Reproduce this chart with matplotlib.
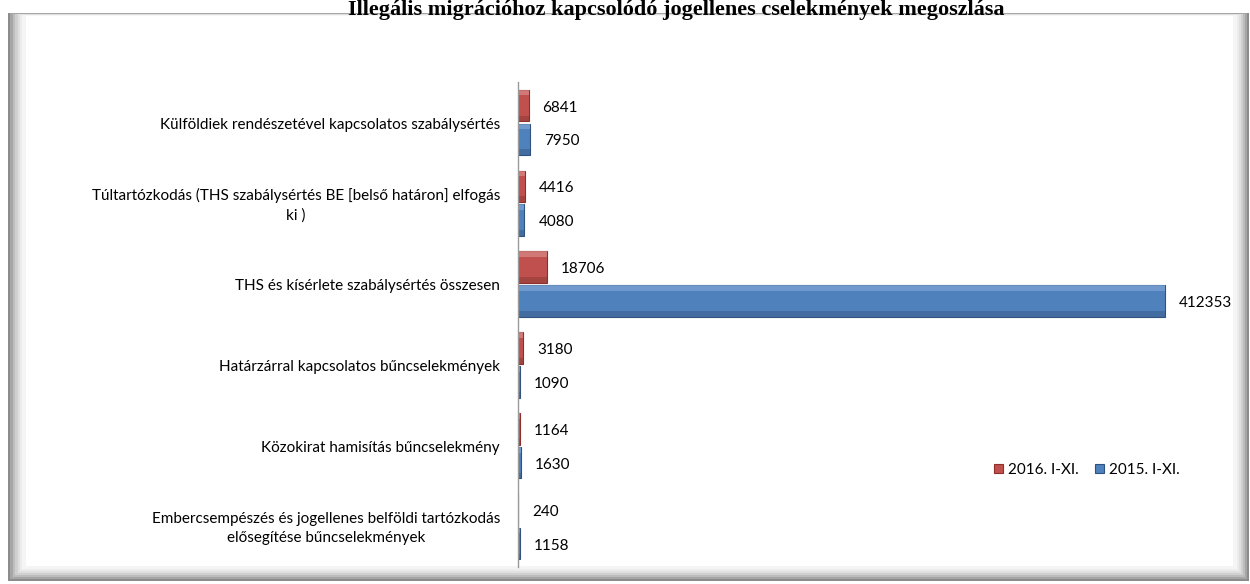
import matplotlib
matplotlib.use("Agg")
import matplotlib.pyplot as plt
from matplotlib.patches import Rectangle
import numpy as np

categories = [
    "Külföldiek rendészetével kapcsolatos szabálysértés",
    "Túltartózkodás (THS szabálysértés BE [belső határon] elfogás\nki )",
    "THS és kísérlete szabálysértés összesen",
    "Határzárral kapcsolatos bűncselekmények",
    "Közokirat hamisítás bűncselekmény",
    "Embercsempészés és jogellenes belföldi tartózkodás\nelősegítése bűncselekmények",
]
values_2016 = [6841, 4416, 18706, 3180, 1164, 240]
values_2015 = [7950, 4080, 412353, 1090, 1630, 1158]
series_names = ["2016. I-XI.", "2015. I-XI."]
title = "Illegális migrációhoz kapcsolódó jogellenes cselekmények megoszlása"

red = "#C0504D"
red_dark = "#8E2F2C"
blue = "#4F81BD"
blue_dark = "#2F527E"

W, H = 1250, 584
fig = plt.figure(figsize=(W / 100, H / 100), dpi=100)
fig.patch.set_facecolor("white")


def fx(px):
    return px / W


def fy(py):
    return 1 - py / H


# frame with bevel/shadow
shades = ["#8c8c8c", "#a6a6a6", "#bdbdbd", "#d0d0d0", "#e0e0e0", "#ececec", "#f5f5f5"]
for i, c in enumerate(shades):
    x0, y0 = 8 + i * 2.4, 13 + i * 0.3
    x1, y1 = 1249 - i * 2.0, 581 - i * 2.0
    fig.patches.append(Rectangle((fx(x0), fy(y1)), fx(x1 - x0), (y1 - y0) / H,
                                 transform=fig.transFigure, facecolor=c,
                                 edgecolor="none", zorder=0))
fig.patches.append(Rectangle((fx(26), fy(566)), fx(1233 - 26), (566 - 16) / H,
                             transform=fig.transFigure, facecolor="white",
                             edgecolor="none", zorder=0))

fig.text(fx(676), fy(0.5), title, ha="center", va="top", fontsize=16,
         fontweight="bold", family="Liberation Serif", color="black", zorder=5)

ax = fig.add_axes([fx(518), fy(567), fx(1224 - 518), (567 - 82) / H])
ax.set_facecolor("none")
ax.set_zorder(2)

y = np.arange(len(categories))
h = 0.39
off = 0.21
bars_r = ax.barh(y - off, values_2016, height=h, color=red, edgecolor=red_dark,
                 linewidth=0.8, label=series_names[0])
bars_b = ax.barh(y + off, values_2015, height=h, color=blue, edgecolor=blue_dark,
                 linewidth=0.8, label=series_names[1])

# bevel highlight
for bars, light in ((bars_r, "#D98B88"), (bars_b, "#7FA6D6")):
    for b in bars:
        bx, by = b.get_x(), b.get_y()
        bw, bh = b.get_width(), b.get_height()
        ax.add_patch(Rectangle((bx, by), bw, bh * 0.18, facecolor=light,
                               edgecolor="none", alpha=0.7))
        ax.add_patch(Rectangle((bx, by + bh * 0.82), bw, bh * 0.18,
                               facecolor="black", edgecolor="none", alpha=0.15))

ax.set_xlim(0, 450000)
ax.set_ylim(len(categories) - 0.5, -0.5)
ax.set_xticks([])
ax.set_yticks([])
for s in ["top", "right", "bottom"]:
    ax.spines[s].set_visible(False)
ax.spines["left"].set_color("#9a9a9a")
ax.spines["left"].set_linewidth(1)

font = "Lato"
fs = 11
for bars in (bars_r, bars_b):
    for b in bars:
        ax.annotate(f"{int(b.get_width())}", (b.get_width(), b.get_y() + b.get_height() / 2),
                    xytext=(10, -1.5), textcoords="offset points", ha="left", va="center",
                    fontsize=fs, family=font, color="black", annotation_clip=False)

for i, cat in enumerate(categories):
    ax.annotate(cat, (0, i), xytext=(-13, -1.5), textcoords="offset points",
                ha="right", va="center", multialignment="center",
                fontsize=fs, family=font, color="black", linespacing=1.4)

leg = ax.legend(loc="center left",
                bbox_to_anchor=((980 - 518) / (1224 - 518), (567 - 470) / (567 - 82)),
                ncol=2, frameon=False, handlelength=0.6, handleheight=0.6,
                handletextpad=0.3, columnspacing=1.1,
                prop={"family": font, "size": fs})

fig.savefig("out.png", dpi=100, facecolor="white")
